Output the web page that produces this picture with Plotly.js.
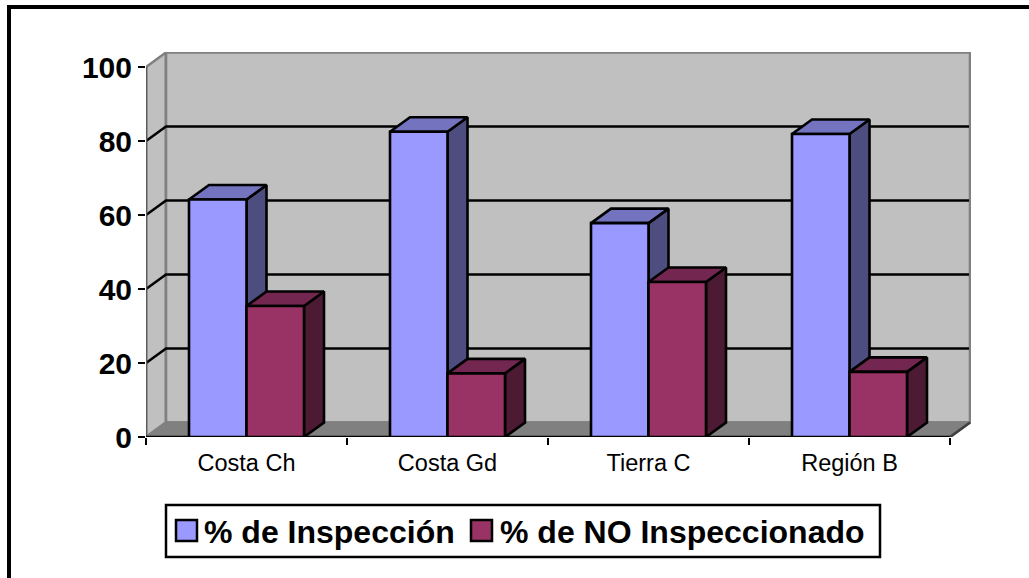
<!DOCTYPE html>
<html>
<head>
<meta charset="utf-8">
<script src="https://cdn.plot.ly/plotly-3.0.1.min.js"></script>
<style>html,body{margin:0;padding:0;background:#fff}#chart{width:1029px;height:578px}</style>
</head>
<body>
<div id="chart"></div>
<script>
const categories = ['Costa Ch', 'Costa Gd', 'Tierra C', 'Región B'];
const seriesNames = ['% de Inspección', '% de NO Inspeccionado'];
const inspeccion = [64.2, 82.5, 57.8, 81.9];
const noInspeccionado = [35.4, 17.2, 41.9, 17.6];
const yTicks = [0, 20, 40, 60, 80, 100];
const front = ['#9999ff', '#993366'];
const side = ['#4d4d80', '#4d1a33'];
const top_ = ['#7373bf', '#732650'];

const pxX = 201, pxY = 3.7;
const depthX = 20 / pxX, depthY = 14.5 / pxY;
const barW = 57.5 / pxX;
const nCat = categories.length;
const catX = categories.map((_, i) => i + 0.5);
const LW = 2.6;

function poly(xs, ys, fill, lineColor, z, lw) {
  return {type:'scatter', mode:'lines', x:xs, y:ys, fill:'toself', fillcolor:fill,
    line:{color:lineColor, width:lw === undefined ? LW : lw}, showlegend:false, hoverinfo:'skip',
    cliponaxis:false, zorder:z};
}
function line(xs, ys, color, z, w) {
  return {type:'scatter', mode:'lines', x:xs, y:ys, line:{color:color, width:w||LW},
    showlegend:false, hoverinfo:'skip', cliponaxis:false, zorder:z};
}

const traces = [];
// walls and floor
traces.push(poly([0, depthX, depthX, 0, 0], [0, depthY, 100 + depthY, 100, 0], '#c0c0c0', '#808080', 0));
traces.push(poly([depthX, nCat + depthX, nCat + depthX, depthX, depthX], [depthY, depthY, 100 + depthY, 100 + depthY, depthY], '#c0c0c0', '#808080', 0));
traces.push(poly([0, depthX, nCat + depthX, nCat, 0], [0, depthY, depthY, 0, 0], '#808080', '#808080', 0));
// gridlines
yTicks.filter(v => v > 0 && v < 100).forEach(v => {
  traces.push(line([0, depthX, nCat + depthX - 0.005], [v, v + depthY, v + depthY], '#000000', 1));
});
// axis lines
traces.push(line([0, 0], [0, 100], '#595959', 1));
traces.push(line([0, nCat], [0, 0], '#000000', 1));
traces.push(line([nCat, nCat + depthX], [0, depthY], '#404040', 1));

// 3D faces: drawn series by series, so later series sit on top
[inspeccion, noInspeccionado].forEach((vals, s) => {
  vals.forEach((v, i) => {
    const x0 = catX[i] + (s - 1) * barW, x1 = x0 + barW;
    traces.push(poly([x1, x1 + depthX, x1 + depthX, x1, x1], [0, depthY, v + depthY, v, 0], side[s], '#000000', 2));
    traces.push(poly([x0, x1, x1 + depthX, x0 + depthX, x0], [v, v, v + depthY, v + depthY, v], top_[s], '#000000', 2));
  });
});

// front faces
[inspeccion, noInspeccionado].forEach((vals, s) => {
  traces.push({type:'bar', name:seriesNames[s], x:catX, y:vals, showlegend:false,
    marker:{color:front[s], line:{color:'#000000', width:LW}}, hoverinfo:'skip', cliponaxis:false, zorder:3});
});

const font = 'Liberation Sans, Arial, sans-serif';
const plotW = 825, plotH = 385, mL = 146, mT = 52;
const pX = px => (px - mL) / plotW;
const pY = py => (mT + plotH - py) / plotH;
function rectPx(x0, x1, y0, y1, fill, lineColor, lw) {
  return {type:'rect', xref:'paper', yref:'paper', x0:pX(x0), x1:pX(x1), y0:pY(y0), y1:pY(y1),
    fillcolor:fill, line:lineColor ? {color:lineColor, width:lw} : {width:0}};
}

const swatchX = [176, 471];
const labelX = [203, 499];

const layout = {
  width:1029, height:578,
  margin:{l:mL, r:1029 - mL - plotW, t:mT, b:578 - mT - plotH, pad:0},
  paper_bgcolor:'#ffffff', plot_bgcolor:'rgba(0,0,0,0)',
  barmode:'group', bargap:1 - 2 * barW, bargroupgap:0, showlegend:false,
  xaxis:{range:[0, plotW / pxX], tickmode:'array', tickvals:catX, ticktext:categories,
    ticks:'', showgrid:false, zeroline:false, showline:false,
    tickfont:{family:font, size:23.5, color:'#000000'}, ticklabelstandoff:9,
    minor:{tickmode:'array', tickvals:[0,1,2,3,4], ticks:'outside', ticklen:7, tickwidth:2.5, tickcolor:'#000000', showgrid:false}},
  yaxis:{range:[0, plotH / pxY], tickmode:'array', tickvals:yTicks, ticks:'outside', ticklen:7, tickwidth:2.5,
    tickcolor:'#000000', showgrid:false, zeroline:false, showline:false,
    tickfont:{family:font, size:30, color:'#000000', weight:'bold'}},
  shapes:[
    rectPx(7, 1040, 5, 9, '#000000'),
    rectPx(7, 11, 5, 590, '#000000'),
    rectPx(166, 880, 505, 557, '#ffffff', '#000000', 2.5),
    rectPx(swatchX[0], swatchX[0] + 21, 520, 541, front[0], '#000000', 2.5),
    rectPx(swatchX[1], swatchX[1] + 21, 520, 541, front[1], '#000000', 2.5)
  ],
  annotations: seriesNames.map((t, i) => ({text:t, xref:'paper', yref:'paper', x:pX(labelX[i]), y:pY(532),
    xanchor:'left', yanchor:'middle', showarrow:false, borderpad:0,
    font:{family:font, size:32, color:'#000000', weight:'bold'}}))
};
Plotly.newPlot('chart', traces, layout, {displayModeBar:false, staticPlot:true});
</script>
</body>
</html>
